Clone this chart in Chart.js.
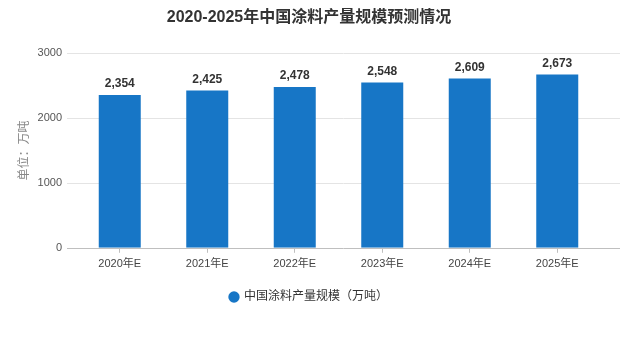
<!DOCTYPE html>
<html>
<head>
<meta charset="utf-8">
<script src="https://cdn.jsdelivr.net/npm/chart.js@4.4.1/dist/chart.umd.min.js"></script>
<style>
  html, body { margin: 0; padding: 0; background: #ffffff; }
  #wrap { width: 636px; height: 346px; position: relative; }
</style>
</head>
<body>
<div id="wrap"><canvas id="coating-chart"></canvas></div>
<script>
// Forecast of China coating output, 2020-2025 (10k tonnes)
const years = ['2020年E', '2021年E', '2022年E', '2023年E', '2024年E', '2025年E'];
const output = [2354, 2425, 2478, 2548, 2609, 2673];
const yTicks = [0, 1000, 2000, 3000];

const barColor = '#1776c6';
const fontFamily = '"Liberation Sans", "Noto Sans CJK SC", Arial, sans-serif';

// Horizontal grid lines run a bit past the plot on both sides
const wideGrid = {
    id: 'wideGrid',
    beforeDatasetsDraw(chart) {
        const ctx = chart.ctx;
        const y = chart.scales.y;
        ctx.save();
        ctx.lineWidth = 1;
        y.ticks.forEach(t => {
            const py = Math.round(y.getPixelForValue(t.value)) + 0.5;
            ctx.strokeStyle = t.value === 0 ? '#bfbfbf' : '#e4e4e4';
            ctx.beginPath();
            ctx.moveTo(chart.chartArea.left - 9, py);
            ctx.lineTo(chart.chartArea.right + 19, py);
            ctx.stroke();
        });
        ctx.restore();
    }
};

// Value labels on top of each bar
const barLabels = {
    id: 'barLabels',
    afterDatasetsDraw(chart) {
        const ctx = chart.ctx;
        const meta = chart.getDatasetMeta(0);
        ctx.save();
        ctx.font = 'bold 12px ' + fontFamily;
        ctx.fillStyle = '#333333';
        ctx.textAlign = 'center';
        ctx.textBaseline = 'bottom';
        meta.data.forEach((bar, i) => {
            ctx.fillText(output[i].toLocaleString('en-US'), bar.x, bar.y - 5);
        });
        ctx.restore();
    }
};

const ctx = document.getElementById('coating-chart').getContext('2d');

new Chart(ctx, {
    type: 'bar',
    data: {
        labels: years,
        datasets: [{
            label: '中国涂料产量规模（万吨）',
            data: output,
            backgroundColor: barColor,
            borderWidth: 0,
            categoryPercentage: 1.0,
            barPercentage: 0.48
        }]
    },
    options: {
        responsive: true,
        maintainAspectRatio: false,
        animation: false,
        layout: {
            padding: { top: 4, right: 35, bottom: 33, left: 17 }
        },
        scales: {
            x: {
                grid: {
                    offset: false,
                    drawOnChartArea: false,
                    drawTicks: true,
                    tickLength: 5,
                    color: '#bfbfbf'
                },
                border: { display: false },
                ticks: {
                    color: '#444444',
                    font: { family: fontFamily, size: 11 },
                    padding: 5,
                    maxRotation: 0
                }
            },
            y: {
                min: 0,
                max: 3000,
                afterBuildTicks(scale) {
                    scale.ticks = yTicks.map(v => ({ value: v }));
                },
                afterFit(scale) {
                    scale.width = 59;
                },
                grid: { display: false },
                border: { display: false },
                ticks: {
                    color: '#555555',
                    font: { family: fontFamily, size: 11 },
                    padding: 6,
                    callback: v => String(v)
                },
                title: {
                    display: true,
                    text: '单位：万吨',
                    color: '#888888',
                    font: { family: fontFamily, size: 12 },
                    padding: { top: 0, bottom: 4 }
                }
            }
        },
        plugins: {
            title: {
                display: true,
                text: '2020-2025年中国涂料产量规模预测情况',
                color: '#333333',
                font: { family: fontFamily, size: 16, weight: 'bold' },
                padding: { top: 4, bottom: 26 }
            },
            legend: {
                position: 'bottom',
                labels: {
                    color: '#333333',
                    font: { family: fontFamily, size: 12 },
                    usePointStyle: true,
                    pointStyle: 'circle',
                    boxWidth: 8,
                    boxHeight: 8,
                    padding: 15
                }
            },
            tooltip: { enabled: false }
        }
    },
    plugins: [wideGrid, barLabels]
});
</script>
</body>
</html>
